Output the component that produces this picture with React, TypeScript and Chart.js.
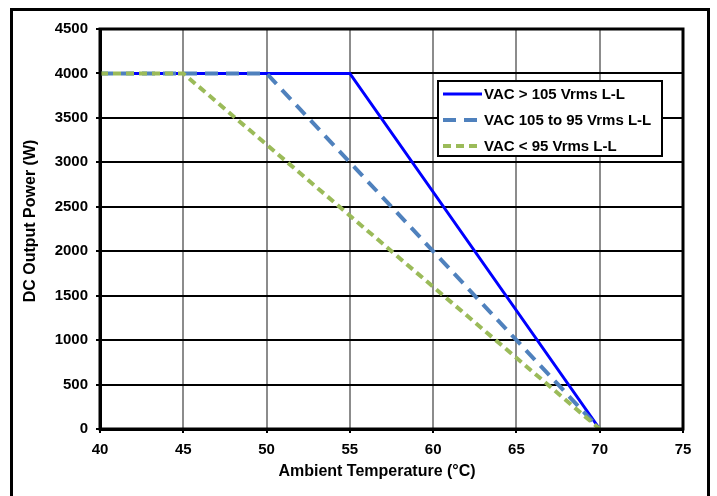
import React, { useEffect, useRef } from "react";
import { Chart, registerables } from "chart.js";

Chart.register(...registerables);

const seriesLabels = ["VAC > 105 Vrms L-L", "VAC 105 to 95 Vrms L-L", "VAC < 95 Vrms L-L"];
const tempHigh = [40, 55, 70];
const powerHigh = [4000, 4000, 0];
const tempMid = [40, 50, 70];
const powerMid = [4000, 4000, 0];
const tempLow = [40, 45, 70];
const powerLow = [4000, 4000, 0];
const xTitle = "Ambient Temperature (°C)";
const yTitle = "DC Output Power (W)";

const FONT = "'Liberation Sans', Arial, sans-serif";

const toPoints = (xs: number[], ys: number[]) => xs.map((x, i) => ({ x, y: ys[i] }));

const framePlugin = {
  id: "framePlugin",
  beforeDraw(chart: any) {
    const ctx = chart.ctx;
    ctx.save();
    ctx.fillStyle = "#ffffff";
    ctx.fillRect(0, 0, chart.width, chart.height);
    ctx.strokeStyle = "#000";
    ctx.lineWidth = 3;
    ctx.strokeRect(11.5, 9.5, 697, 600);
    // axis titles
    ctx.fillStyle = "#000";
    ctx.font = `bold 16px ${FONT}`;
    ctx.textAlign = "center";
    ctx.textBaseline = "middle";
    ctx.fillText(xTitle, 377, 472);
    ctx.translate(31, 221);
    ctx.rotate(-Math.PI / 2);
    ctx.fillText(yTitle, 0, 0);
    ctx.restore();
  },
  afterDatasetsDraw(chart: any) {
    const ctx = chart.ctx;
    const a = chart.chartArea;
    ctx.save();
    // plot border
    ctx.strokeStyle = "#000";
    ctx.lineWidth = 3;
    ctx.strokeRect(a.left, a.top, a.right - a.left, a.bottom - a.top);
    // legend
    const bx = a.left + 338;
    const by = a.top + 52;
    const bw = 224;
    const bh = 75;
    ctx.fillStyle = "#fff";
    ctx.fillRect(bx, by, bw, bh);
    ctx.lineWidth = 2;
    ctx.strokeStyle = "#000";
    ctx.strokeRect(bx, by, bw, bh);
    chart.data.datasets.forEach((ds: any, i: number) => {
      const ry = by + 13 + i * 26;
      ctx.beginPath();
      ctx.strokeStyle = ds.borderColor;
      ctx.lineWidth = ds.borderWidth;
      ctx.setLineDash(ds.borderDash || []);
      ctx.moveTo(bx + 5, ry);
      ctx.lineTo(bx + 44, ry);
      ctx.stroke();
      ctx.setLineDash([]);
      ctx.fillStyle = "#000";
      ctx.font = `bold 15px ${FONT}`;
      ctx.textBaseline = "middle";
      ctx.textAlign = "left";
      ctx.fillText(ds.label, bx + 46, ry + 1);
    });
    ctx.restore();
  },
};

export default function App() {
  const ref = useRef<HTMLCanvasElement | null>(null);
  useEffect(() => {
    if (!ref.current) return;
    const chart = new Chart(ref.current, {
      type: "line",
      data: {
        datasets: [
          {
            label: seriesLabels[0],
            data: toPoints(tempHigh, powerHigh),
            borderColor: "#0000FF",
            borderWidth: 3,
            pointRadius: 0,
            order: 3,
            tension: 0,
          },
          {
            label: seriesLabels[1],
            data: toPoints(tempMid, powerMid),
            borderColor: "#4F81BD",
            borderWidth: 4,
            borderDash: [13, 8],
            pointRadius: 0,
            order: 2,
            tension: 0,
          },
          {
            label: seriesLabels[2],
            data: toPoints(tempLow, powerLow),
            borderColor: "#9BBB59",
            borderWidth: 4,
            borderDash: [8, 5],
            pointRadius: 0,
            order: 1,
            tension: 0,
          },
        ],
      },
      options: {
        animation: false,
        responsive: false,
        devicePixelRatio: 1,
        layout: { padding: { left: 0, top: 29, right: 34, bottom: 0 } },
        plugins: { legend: { display: false }, tooltip: { enabled: false } },
        scales: {
          x: {
            type: "linear",
            min: 40,
            max: 75,
            ticks: {
              stepSize: 5,
              color: "#000",
              padding: 8,
              maxRotation: 0,
              font: { family: FONT, size: 15, weight: "bold" },
              callback: (v: any) => String(v),
            },
            grid: { color: "#8c8c8c", lineWidth: 2, tickLength: 4, tickColor: "#000" },
            border: { color: "#000", width: 3 },
            title: { display: false },
            afterFit: (s: any) => {
              s.height = 67;
            },
          },
          y: {
            type: "linear",
            min: 0,
            max: 4500,
            ticks: {
              stepSize: 500,
              color: "#000",
              padding: 8,
              font: { family: FONT, size: 15, weight: "bold" },
              callback: (v: any) => String(v),
            },
            grid: { color: "#000", lineWidth: 2, tickLength: 4, tickColor: "#000" },
            border: { color: "#000", width: 3 },
            title: { display: false },
            afterFit: (s: any) => {
              s.width = 100;
            },
          },
        },
      },
      plugins: [framePlugin],
    } as any);
    return () => chart.destroy();
  }, []);
  return (
    <div style={{ position: "fixed", left: 0, top: 0, width: 717, height: 496, background: "#fff" }}>
      <canvas ref={ref} width={717} height={496} style={{ display: "block" }} />
    </div>
  );
}
